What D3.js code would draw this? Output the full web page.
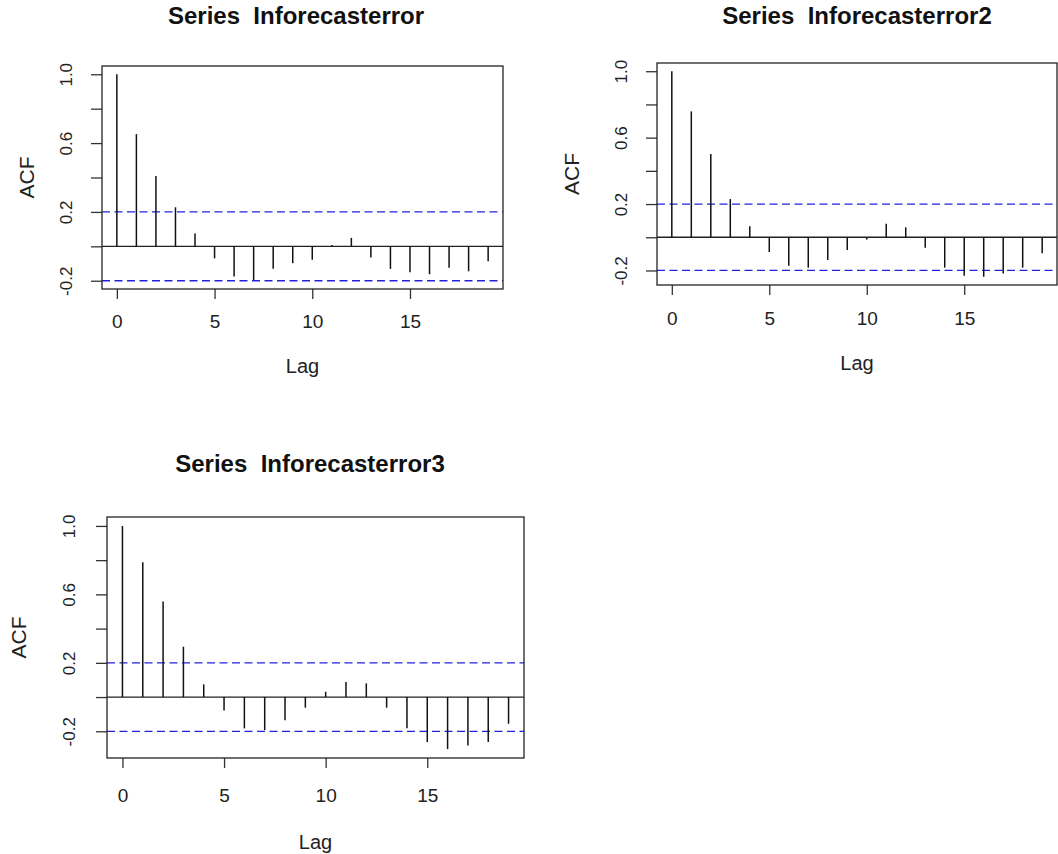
<!DOCTYPE html>
<html>
<head>
<meta charset="utf-8">
<script src="https://cdn.jsdelivr.net/npm/d3@7"></script>
<style>
  body { margin: 0; background: #fff; }
  svg { display: block; font-family: "Liberation Sans", Arial, sans-serif; }
</style>
</head>
<body>
<svg id="chart" width="1058" height="854"></svg>
<script>
// lag categories shared by all three panels
const lags = [0, 1, 2, 3, 4, 5, 6, 7, 8, 9, 10, 11, 12, 13, 14, 15, 16, 17, 18, 19];

// ACF values
const acf1 = [1.0, 0.652, 0.409, 0.227, 0.074, -0.070, -0.176, -0.196, -0.131, -0.098,
              -0.078, 0.008, 0.049, -0.065, -0.131, -0.151, -0.162, -0.125, -0.145, -0.086];
const acf2 = [1.0, 0.758, 0.502, 0.230, 0.067, -0.089, -0.171, -0.183, -0.137, -0.077,
              -0.014, 0.081, 0.060, -0.063, -0.183, -0.232, -0.238, -0.218, -0.183, -0.097];
const acf3 = [1.0, 0.788, 0.559, 0.294, 0.074, -0.078, -0.183, -0.193, -0.135, -0.062,
              0.031, 0.088, 0.080, -0.062, -0.183, -0.263, -0.304, -0.283, -0.263, -0.156];

// 95% confidence bound (dashed blue lines)
const ci = [0.2, 0.2, 0.2];

const titles = ["Series  Inforecasterror", "Series  Inforecasterror2", "Series  Inforecasterror3"];

// tick labels
const xTicks = [0, 5, 10, 15];
const yTicks = [-0.2, 0, 0.2, 0.4, 0.6, 0.8, 1.0];
const yLabeled = [-0.2, 0.2, 0.6, 1.0];

// panel boxes on the page (layout only)
const panels = [
  { left: 102, right: 503, top: 66, bottom: 289, titleX: 296, titleY: 15, yLabX: -36, acfX: -76, xLabDy: 32, lagDy: 77 },
  { left: 657, right: 1057, top: 63, bottom: 285, titleX: 857, titleY: 15, yLabX: -36, acfX: -86, xLabDy: 33, lagDy: 78 },
  { left: 107, right: 524, top: 517, bottom: 758, titleX: 310, titleY: 463, yLabX: -38, acfX: -89, xLabDy: 37, lagDy: 84 }
];

const series = [acf1, acf2, acf3];
const svg = d3.select('#chart');

// R prints a plain hyphen for negatives
const fmtY = d => d.toFixed(1);

panels.forEach((p, i) => {
  const vals = series[i];
  const g = svg.append('g');

  // R-style limits: data range plus 4% each side
  const xlo = d3.min(lags), xhi = d3.max(lags);
  const xe = (xhi - xlo) * 0.04;
  const x = d3.scaleLinear().domain([xlo - xe, xhi + xe]).range([p.left, p.right]);

  const ylo = Math.min(d3.min(vals), -ci[i]);
  const yhi = Math.max(d3.max(vals), ci[i]);
  const ye = (yhi - ylo) * 0.04;
  const y = d3.scaleLinear().domain([ylo - ye, yhi + ye]).range([p.bottom, p.top]);

  // title (keep the double space)
  g.append('text')
    .attr('x', p.titleX)
    .attr('y', p.titleY)
    .attr('text-anchor', 'middle')
    .attr('dominant-baseline', 'central')
    .attr('font-size', 24)
    .attr('font-weight', 'bold')
    .attr('fill', '#111')
    .style('white-space', 'pre')
    .text(titles[i]);

  // x axis
  const xAxis = g.append('g')
    .attr('transform', `translate(0,${p.bottom})`)
    .call(d3.axisBottom(x).tickValues(xTicks).tickSize(10).tickFormat(d3.format('d')));
  xAxis.select('.domain').remove();
  xAxis.selectAll('line').attr('stroke', '#333').attr('stroke-width', 1.3);
  xAxis.selectAll('text')
    .attr('y', p.xLabDy)
    .attr('dy', null)
    .attr('dominant-baseline', 'central')
    .attr('font-size', 19)
    .attr('fill', '#222');

  // y axis
  const yAxis = g.append('g')
    .attr('transform', `translate(${p.left},0)`)
    .call(d3.axisLeft(y).tickValues(yTicks).tickSize(11)
      .tickFormat(d => yLabeled.some(v => Math.abs(v - d) < 1e-9) ? fmtY(d) : ''));
  yAxis.select('.domain').remove();
  yAxis.selectAll('line').attr('stroke', '#333').attr('stroke-width', 1.3);
  yAxis.selectAll('text')
    .attr('x', 0)
    .attr('y', p.yLabX)
    .attr('dy', null)
    .attr('transform', 'rotate(-90)')
    .attr('text-anchor', 'middle')
    .attr('dominant-baseline', 'central')
    .attr('font-size', 17)
    .attr('fill', '#222');

  // axis titles
  g.append('text')
    .attr('x', (p.left + p.right) / 2)
    .attr('y', p.bottom + p.lagDy)
    .attr('text-anchor', 'middle')
    .attr('dominant-baseline', 'central')
    .attr('font-size', 20)
    .attr('fill', '#222')
    .text('Lag');

  g.append('text')
    .attr('transform', `translate(${p.left + p.acfX},${(p.top + p.bottom) / 2}) rotate(-90)`)
    .attr('text-anchor', 'middle')
    .attr('dominant-baseline', 'central')
    .attr('font-size', 21)
    .attr('fill', '#222')
    .text('ACF');

  // zero line
  g.append('line')
    .attr('x1', p.left).attr('x2', p.right)
    .attr('y1', y(0)).attr('y2', y(0))
    .attr('stroke', '#222').attr('stroke-width', 1.3);

  // confidence bounds
  [ci[i], -ci[i]].forEach(c => {
    g.append('line')
      .attr('x1', p.left).attr('x2', p.right)
      .attr('y1', y(c)).attr('y2', y(c))
      .attr('stroke', '#2222dd')
      .attr('stroke-width', 1.3)
      .attr('stroke-dasharray', '8,4.5');
  });

  // ACF spikes
  g.selectAll('line.spike')
    .data(lags)
    .enter()
    .append('line')
    .attr('class', 'spike')
    .attr('x1', d => x(d)).attr('x2', d => x(d))
    .attr('y1', y(0))
    .attr('y2', (d, j) => y(vals[j]))
    .attr('stroke', '#111')
    .attr('stroke-width', 1.5);

  // box
  g.append('rect')
    .attr('x', p.left).attr('y', p.top)
    .attr('width', p.right - p.left)
    .attr('height', p.bottom - p.top)
    .attr('fill', 'none')
    .attr('stroke', '#222')
    .attr('stroke-width', 1.3);
});
</script>
</body>
</html>
